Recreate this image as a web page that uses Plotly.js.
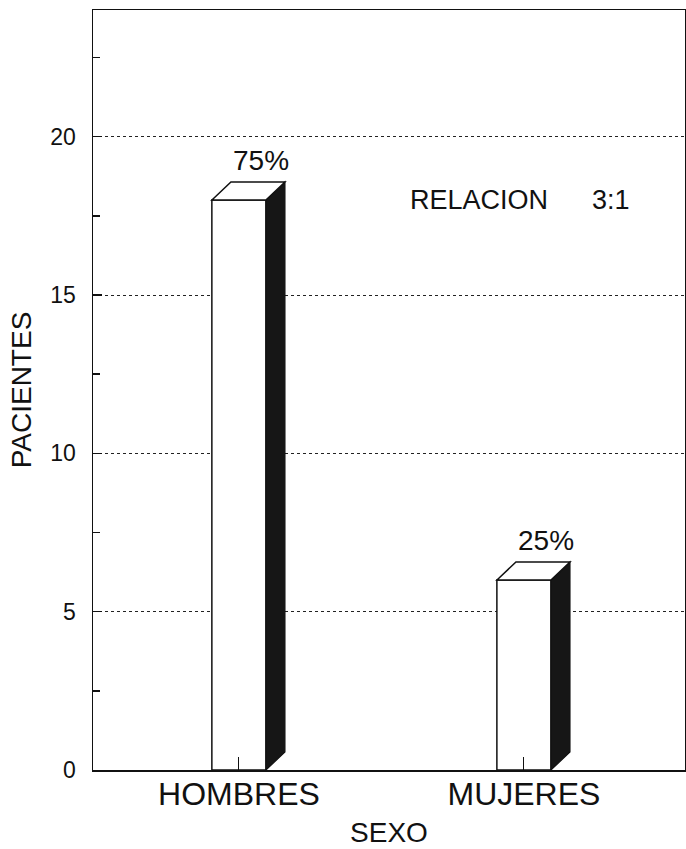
<!DOCTYPE html>
<html>
<head>
<meta charset="utf-8">
<script src="https://cdn.plot.ly/plotly-3.0.1.min.js"></script>
<style>
html,body{margin:0;padding:0;background:#fff;}
#chart{width:686px;height:849px;}
</style>
</head>
<body>
<div id="chart"></div>
<script>
// ---- data ----
var categories = ["HOMBRES", "MUJERES"];
var pacientes = [18, 6];
var porcentajes = ["75%", "25%"];
var relacionLabel = "RELACION";
var relacionValue = "3:1";
var yTickVals = [0, 5, 10, 15, 20];

// ---- layout constants ----
var W = 686, H = 849;
var margin = {l: 93, r: 1, t: 10, b: 79};
var yRange = [0, 24];
var xRange = [-0.512, 1.565];
var plotH = H - margin.t - margin.b;
var pxPerY = plotH / (yRange[1] - yRange[0]);
var FONT = "Liberation Sans, Arial, sans-serif";
var ink = "#111";

// 3D depth (pixels)
var halfW = 27, depthX = 19, depthYpx = 18;
var dY = depthYpx / pxPerY;

var shapes = [];
pacientes.forEach(function (v, i) {
  // side face (dark)
  shapes.push({
    type: "path", xref: "x", yref: "y", xsizemode: "pixel", xanchor: i,
    path: "M " + halfW + "," + v + " L " + (halfW + depthX) + "," + (v + dY) +
          " L " + (halfW + depthX) + "," + dY + " L " + halfW + ",0 Z",
    fillcolor: "#161616", line: {color: ink, width: 1.2}
  });
  // top face (white)
  shapes.push({
    type: "path", xref: "x", yref: "y", xsizemode: "pixel", xanchor: i,
    path: "M " + (-halfW) + "," + v + " L " + (-halfW + depthX) + "," + (v + dY) +
          " L " + (halfW + depthX) + "," + (v + dY) + " L " + halfW + "," + v + " Z",
    fillcolor: "#ffffff", line: {color: ink, width: 1.5}
  });
});

var annotations = pacientes.map(function (v, i) {
  return {
    x: i, y: v, xref: "x", yref: "y", text: porcentajes[i], showarrow: false,
    xshift: 22, yshift: 40, font: {family: FONT, size: 28, color: ink}
  };
});
annotations.push({
  x: 0.532, y: 18, xref: "paper", yref: "y", xanchor: "left", text: relacionLabel,
  showarrow: false, font: {family: FONT, size: 27, color: ink}
});
annotations.push({
  x: 0.84, y: 18, xref: "paper", yref: "y", xanchor: "left", text: relacionValue,
  showarrow: false, font: {family: FONT, size: 27, color: ink}
});

var trace = {
  type: "bar", x: categories, y: pacientes, width: 0.19,
  marker: {color: "#ffffff", line: {color: ink, width: 1.5}},
  hoverinfo: "skip"
};

var layout = {
  width: W, height: H, margin: margin,
  paper_bgcolor: "#fff", plot_bgcolor: "#fff",
  showlegend: false,
  font: {family: FONT, color: ink},
  xaxis: {
    type: "category", range: xRange,
    showline: true, mirror: true, linecolor: ink, linewidth: 1.5,
    ticks: "inside", ticklen: 13, tickcolor: ink, tickwidth: 1,
    showgrid: false, zeroline: false,
    tickfont: {family: FONT, size: 32, color: ink},
    ticklabelstandoff: -5,
    title: {text: "SEXO", font: {family: FONT, size: 28, color: ink}, standoff: 11}
  },
  yaxis: {
    range: yRange, tickvals: yTickVals,
    showline: true, mirror: true, linecolor: ink, linewidth: 1.5,
    ticks: "inside", ticklen: 9, tickcolor: ink, tickwidth: 1.5,
    minor: {dtick: 2.5, ticks: "inside", ticklen: 7, tickcolor: ink, showgrid: false},
    showgrid: true, gridcolor: "#222", griddash: "dot", gridwidth: 1,
    zeroline: false,
    tickfont: {family: FONT, size: 23, color: ink},
    ticklabelstandoff: 11,
    title: {text: "PACIENTES", font: {family: FONT, size: 28, color: ink}, standoff: 10}
  },
  shapes: shapes,
  annotations: annotations
};

Plotly.newPlot("chart", [trace], layout, {displayModeBar: false, staticPlot: true});
</script>
</body>
</html>
